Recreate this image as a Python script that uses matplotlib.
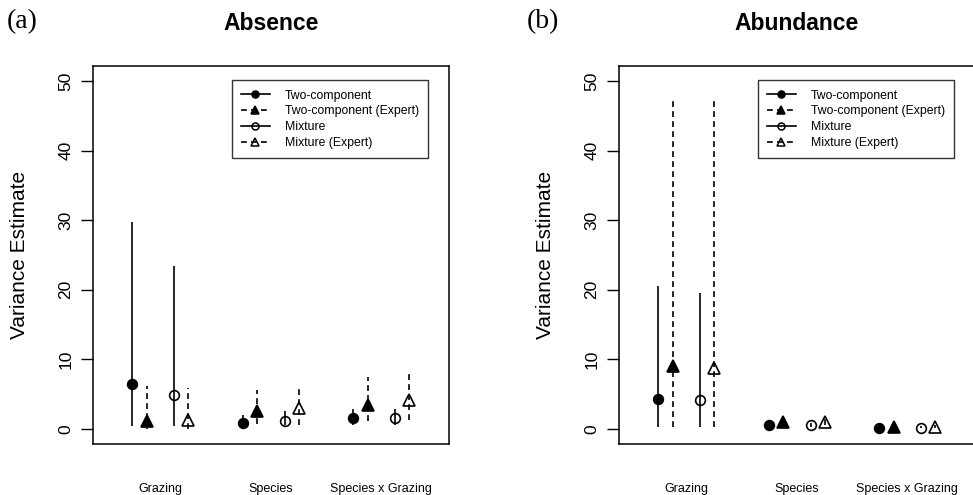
import matplotlib
matplotlib.use("Agg")
import matplotlib.pyplot as plt
from matplotlib.lines import Line2D

plt.rcParams['font.family'] = ['Liberation Sans', 'DejaVu Sans']

effects = ["Grazing", "Species", "Species x Grazing"]
methods = ["Two-component", "Two-component (Expert)", "Mixture", "Mixture (Expert)"]

# Absence panel: estimates, lower and upper limits
abs_two_est = [6.4, 0.8, 1.6]
abs_two_lo = [0.4, 0.4, 0.6]
abs_two_hi = [29.8, 2.0, 2.8]
abs_twoexp_est = [1.1, 2.6, 3.5]
abs_twoexp_lo = [0.0, 0.7, 1.1]
abs_twoexp_hi = [6.2, 5.6, 7.4]
abs_mix_est = [4.9, 1.1, 1.6]
abs_mix_lo = [0.4, 0.5, 0.5]
abs_mix_hi = [23.4, 2.6, 2.9]
abs_mixexp_est = [1.3, 3.0, 4.1]
abs_mixexp_lo = [0.0, 0.6, 1.3]
abs_mixexp_hi = [5.9, 5.7, 8.3]

# Abundance panel
abu_two_est = [4.3, 0.5, 0.2]
abu_two_lo = [0.3, 0.3, 0.1]
abu_two_hi = [20.6, 0.8, 0.4]
abu_twoexp_est = [9.0, 1.0, 0.3]
abu_twoexp_lo = [0.3, 0.5, 0.1]
abu_twoexp_hi = [47.6, 1.6, 0.6]
abu_mix_est = [4.2, 0.6, 0.2]
abu_mix_lo = [0.3, 0.3, 0.1]
abu_mix_hi = [19.5, 0.9, 0.4]
abu_mixexp_est = [8.8, 1.0, 0.3]
abu_mixexp_lo = [0.3, 0.5, 0.1]
abu_mixexp_hi = [47.3, 1.6, 0.6]

y_ticks = [0, 10, 20, 30, 40, 50]

offsets = [-0.25, -0.12, 0.13, 0.255]
styles = [
    dict(marker='o', mfc='black', ms=7, ls='solid'),
    dict(marker='^', mfc='black', ms=8.5, ls=(0, (3.5, 2.5))),
    dict(marker='o', mfc='none', ms=7, ls='solid'),
    dict(marker='^', mfc='none', ms=8.5, ls=(0, (3.5, 2.5))),
]

fig = plt.figure(figsize=(9.73, 4.95), dpi=100)
W, H = 973, 495


def make_ax(left_px, data, title, letter, letter_x):
    ax = fig.add_axes([left_px / W, 1 - 444 / H, 356 / W, 378 / H])
    base = list(range(1, len(effects) + 1))
    for (est, lo, hi), off, st in zip(data, offsets, styles):
        xs = [b + off for b in base]
        ax.vlines(xs, lo, hi, colors='black', linestyles=[st['ls']], linewidth=1.2)
        ax.plot(xs, est, linestyle='none', marker=st['marker'], ms=st['ms'],
                mfc=st['mfc'], mec='black', mew=1.2, color='black')
    ax.set_xlim(0.395, 3.615)
    ax.set_ylim(-2.16, 52.16)
    ax.set_yticks(y_ticks)
    ax.set_yticklabels([str(t) for t in y_ticks], rotation=90, va='center', fontsize=12.5)
    ax.tick_params(axis='y', length=9, width=1, pad=5, direction='out')
    ax.set_xticks(base)
    ax.set_xticklabels(effects, fontsize=9)
    ax.tick_params(axis='x', length=0, pad=28)
    ax.set_ylabel("Variance Estimate", fontsize=15, labelpad=21)
    for s in ax.spines.values():
        s.set_linewidth(1.1)
        s.set_color('black')
    handles = []
    for m, st in zip(methods, styles):
        handles.append(Line2D([0], [0], color='black', ls=st['ls'], lw=1.2,
                              marker=st['marker'], ms=st['ms'] * 0.72,
                              mfc=st['mfc'], mec='black', mew=1.1))
    leg = ax.legend(handles, methods, loc='upper right', bbox_to_anchor=(0.941, 0.962),
                    fontsize=8.8, frameon=True, fancybox=False, edgecolor='black',
                    handlelength=2.4, handletextpad=1.2, labelspacing=0.32,
                    borderpad=0.75, borderaxespad=0)
    leg.get_frame().set_linewidth(1.0)
    fig.text((left_px + 178) / W, 1 - 23 / H, title, ha='center', va='center',
             fontsize=16.5, fontweight='bold')
    fig.text(letter_x / W, 1 - 22 / H, letter, ha='left', va='center',
             fontsize=20, family='Liberation Serif')
    return ax


make_ax(93, [(abs_two_est, abs_two_lo, abs_two_hi),
             (abs_twoexp_est, abs_twoexp_lo, abs_twoexp_hi),
             (abs_mix_est, abs_mix_lo, abs_mix_hi),
             (abs_mixexp_est, abs_mixexp_lo, abs_mixexp_hi)],
        "Absence", "(a)", 7)
make_ax(619, [(abu_two_est, abu_two_lo, abu_two_hi),
              (abu_twoexp_est, abu_twoexp_lo, abu_twoexp_hi),
              (abu_mix_est, abu_mix_lo, abu_mix_hi),
              (abu_mixexp_est, abu_mixexp_lo, abu_mixexp_hi)],
        "Abundance", "(b)", 527)

fig.savefig("out.png", dpi=100)
